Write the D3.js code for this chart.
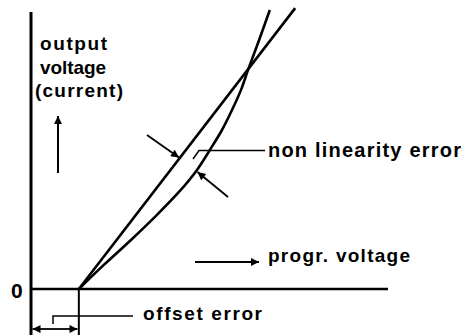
<!DOCTYPE html>
<html>
<head>
<meta charset="utf-8">
<script src="https://cdn.jsdelivr.net/npm/d3@7"></script>
<style>
  html, body { margin: 0; padding: 0; background: #fff; }
  svg { display: block; }
  text { font-family: "Liberation Sans", Arial, sans-serif; font-weight: bold; fill: #000; }
</style>
</head>
<body>
<div id="chart"></div>
<script>
// ---- data (x: programming voltage, y: output voltage, arbitrary units 0..100) ----
const idealX = [13.4, 74.0];
const idealY = [0, 101.4];
const realX = [13.4, 20.4, 28.0, 35.0, 41.7, 46.5, 50.1, 53.5, 56.3, 58.8, 60.8, 63.9, 66.9];
const realY = [0, 8.7, 17.7, 26.4, 35.4, 43.0, 50.2, 57.4, 64.6, 71.8, 79.1, 89.9, 100.7];
const zeroLabel = ["0"];
const yAxisLabel = ["output", "voltage", "(current)"];
const xAxisLabel = "progr. voltage";
const nonLinLabel = "non linearity error";
const offsetLabel = "offset error";

const W = 462, H = 335;
const svg = d3.select("#chart").append("svg").attr("width", W).attr("height", H);

const x = d3.scaleLinear().domain([0, 100]).range([31, 388]);
const y = d3.scaleLinear().domain([0, 100]).range([289, 12]);

const defs = svg.append("defs");
defs.append("marker")
  .attr("id", "ah").attr("viewBox", "0 0 10 10").attr("refX", 10).attr("refY", 5)
  .attr("markerWidth", 11).attr("markerHeight", 8).attr("markerUnits", "userSpaceOnUse")
  .attr("orient", "auto")
  .append("path").attr("d", "M0,0 L10,5 L0,10 Z").attr("fill", "#000");

const line = d3.line().x(d => x(d[0])).y(d => y(d[1]));

// axes
svg.append("line").attr("x1", x(0)).attr("x2", x(0)).attr("y1", y(100)).attr("y2", H)
  .attr("stroke", "#000").attr("stroke-width", 3);
svg.append("line").attr("x1", x(0)).attr("x2", x(100)).attr("y1", y(0)).attr("y2", y(0))
  .attr("stroke", "#000").attr("stroke-width", 2.5);

// ideal straight line
svg.append("path").datum(idealX.map((v, i) => [v, idealY[i]]))
  .attr("d", line).attr("fill", "none").attr("stroke", "#000").attr("stroke-width", 2.6);

// real (non-linear) curve
svg.append("path").datum(realX.map((v, i) => [v, realY[i]]))
  .attr("d", d3.line().x(d => x(d[0])).y(d => y(d[1])).curve(d3.curveCatmullRom.alpha(0.5)))
  .attr("fill", "none").attr("stroke", "#000").attr("stroke-width", 2.6);

// offset vertical line
svg.append("line").attr("x1", x(idealX[0])).attr("x2", x(idealX[0])).attr("y1", y(0)).attr("y2", H)
  .attr("stroke", "#000").attr("stroke-width", 2);

function seg(x1, y1, x2, y2, arrow, w) {
  const l = svg.append("line").attr("x1", x1).attr("y1", y1).attr("x2", x2).attr("y2", y2)
    .attr("stroke", "#000").attr("stroke-width", w || 1.8);
  if (arrow) l.attr("marker-end", "url(#ah)");
  return l;
}
function poly(pts, w) {
  svg.append("path").attr("d", d3.line()(pts)).attr("fill", "none")
    .attr("stroke", "#000").attr("stroke-width", w || 1.5);
}

// y-axis label + up arrow
const yl = svg.append("g");
[[40, 50, 67], [40, 74, 66], [35, 97, 88]].forEach((p, i) => {
  yl.append("text").attr("x", p[0]).attr("y", p[1]).attr("font-size", 19)
    .attr("textLength", p[2]).attr("lengthAdjust", "spacing").text(yAxisLabel[i]);
});
seg(58, 173, 58, 116, true, 2);

// zero label
svg.append("text").attr("x", 11).attr("y", 297.5).attr("font-size", 21).text(zeroLabel[0]);

// x-axis label + arrow
seg(195, 262, 259, 262, true, 1.8);
svg.append("text").attr("x", 268).attr("y", 262).attr("font-size", 19)
  .attr("textLength", 142).attr("lengthAdjust", "spacing").text(xAxisLabel);

// non linearity error arrows + leader
seg(147, 135, 179, 157.5, true, 1.8);
seg(228, 197, 197.5, 172, true, 1.8);
poly([[193, 159], [199, 150.5], [265, 150.5]], 1.5);
svg.append("text").attr("x", 268).attr("y", 157).attr("font-size", 20)
  .attr("textLength", 193).attr("lengthAdjust", "spacing").text(nonLinLabel);

// offset error dimension + leader
seg(55, 329, 32.5, 329, true, 1.8);
seg(55, 329, 77.5, 329, true, 1.8);
poly([[53, 324], [53, 316], [133, 316]], 1.5);
svg.append("text").attr("x", 143).attr("y", 320).attr("font-size", 19)
  .attr("textLength", 119).attr("lengthAdjust", "spacing").text(offsetLabel);
</script>
</body>
</html>
